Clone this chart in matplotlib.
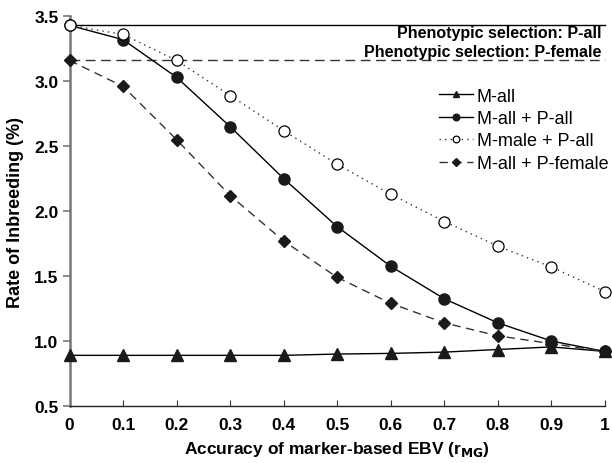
import matplotlib
matplotlib.use("Agg")
import matplotlib.pyplot as plt

plt.rcParams['font.family'] = ['Liberation Sans', 'DejaVu Sans']

accuracy = [0, 0.1, 0.2, 0.3, 0.4, 0.5, 0.6, 0.7, 0.8, 0.9, 1.0]
m_all = [0.89, 0.89, 0.89, 0.89, 0.89, 0.90, 0.905, 0.915, 0.935, 0.955, 0.92]
m_all_p_all = [3.43, 3.32, 3.03, 2.65, 2.25, 1.88, 1.575, 1.325, 1.14, 1.00, 0.92]
m_male_p_all = [3.43, 3.36, 3.16, 2.89, 2.62, 2.36, 2.13, 1.92, 1.73, 1.57, 1.38]
m_all_p_female = [3.16, 2.96, 2.55, 2.12, 1.77, 1.49, 1.29, 1.14, 1.04, 0.98, 0.92]
pheno_p_all = 3.43
pheno_p_female = 3.16
xticks = [0, 0.1, 0.2, 0.3, 0.4, 0.5, 0.6, 0.7, 0.8, 0.9, 1]
xticklabels = ['0', '0.1', '0.2', '0.3', '0.4', '0.5', '0.6', '0.7', '0.8', '0.9', '1']
yticks = [0.5, 1.0, 1.5, 2.0, 2.5, 3.0, 3.5]

fig = plt.figure(figsize=(6.12, 4.64), dpi=100)
ax = fig.add_axes([0.1136, 0.1228, 0.875, 0.840])

# reference lines for phenotypic selection
ax.plot([0, 1], [pheno_p_all, pheno_p_all], color='black', lw=1, zorder=1)
ax.plot([0, 1], [pheno_p_female, pheno_p_female], color='#333333', lw=1,
        dashes=(7, 4), zorder=1)

ax.plot(accuracy, m_all, color='black', lw=1, marker='^', ms=8,
        mfc='#1a1a1a', mec='#1a1a1a', label='M-all', zorder=3)
ax.plot(accuracy, m_all_p_all, color='black', lw=1, marker='o', ms=8,
        mfc='#1a1a1a', mec='#1a1a1a', label='M-all + P-all', zorder=3)
ax.plot(accuracy, m_male_p_all, color='#333333', lw=1, ls=(0, (1, 3)),
        marker='o', ms=8, mfc='white', mec='black', mew=0.9,
        label='M-male + P-all', zorder=3)
ax.plot(accuracy, m_all_p_female, color='#333333', lw=1, dashes=(6, 4),
        marker='D', ms=6.5, mfc='#1a1a1a', mec='#1a1a1a',
        label='M-all + P-female', zorder=3)

ax.text(0.9925, 3.377, 'Phenotypic selection: P-all', ha='right', va='center',
        fontsize=11.5, fontweight='bold')
ax.text(0.9925, 3.23, 'Phenotypic selection: P-female', ha='right', va='center',
        fontsize=11.5, fontweight='bold')

ax.set_xlim(0, 1)
ax.set_ylim(0.5, 3.5)
ax.set_xticks(xticks)
ax.set_xticklabels(xticklabels)
ax.set_yticks(yticks)
ax.set_yticklabels([f'{v:.1f}' for v in yticks])
for lab in ax.get_xticklabels() + ax.get_yticklabels():
    lab.set_fontweight('bold')
    lab.set_fontsize(12.5)
ax.tick_params(axis='y', direction='out', colors='#777777', labelcolor='black',
               length=5, width=1.2, pad=3)
ax.tick_params(axis='x', direction='in', colors='#333333', labelcolor='black',
               length=4, width=0.8, pad=8)

for side in ['top', 'right']:
    ax.spines[side].set_visible(False)
ax.spines['left'].set_color('#777777')
ax.spines['left'].set_linewidth(1.8)
ax.spines['bottom'].set_color('#222222')
ax.spines['bottom'].set_linewidth(1.0)

ax.set_xlabel(r'Accuracy of marker-based EBV (r$_{\mathbf{MG}}$)', fontsize=12.5,
              fontweight='bold', labelpad=5)
ax.set_ylabel('Rate of Inbreeding (%)', fontsize=13, fontweight='bold', labelpad=7)

ax.legend(loc='upper left', bbox_to_anchor=(0.69, 0.817), frameon=False,
          fontsize=13, handlelength=1.9, handletextpad=0.2, labelspacing=0.3,
          borderaxespad=0, markerscale=0.6, borderpad=0)

for line in ax.lines:
    line.set_clip_on(False)

fig.savefig('out.png', dpi=100)
